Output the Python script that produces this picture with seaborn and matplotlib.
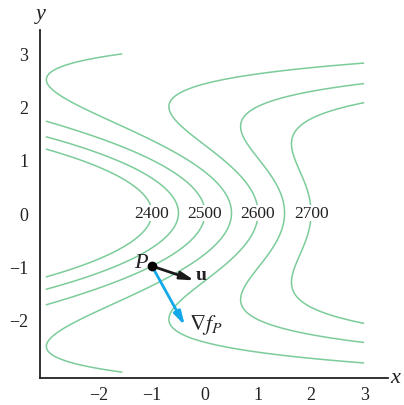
import numpy as np
import matplotlib
matplotlib.use("Agg")
import matplotlib.pyplot as plt
import seaborn as sns

sns.set_style("white")
plt.rcParams['font.family'] = ['Liberation Serif', 'DejaVu Serif']
plt.rcParams['mathtext.fontset'] = 'stix'

# surface: f(x, y) = base + scale*(x + y^2)*exp(-decay*y^2)
base = 2500
scale = 100
decay = 0.3
x_range = [-3, 3]
y_range = [-3, 3]

labeled_levels = [2400, 2500, 2600, 2700]
plain_levels = [2450, 2550, 2650]
label_pos = [(-1, 0), (0, 0), (1, 0), (2, 0)]

ticks = [-2, -1, 0, 1, 2, 3]

P = (-1.0, -1.0)
u_tip = (-0.2, -1.27)
grad_tip = (-0.38, -2.12)

green = '#7ccc9a'
blue = '#12a8ea'

xs = np.linspace(x_range[0], x_range[1], 400)
ys = np.linspace(y_range[0], y_range[1], 400)
X, Y = np.meshgrid(xs, ys)
Z = base + scale * (X + Y**2) * np.exp(-decay * Y**2)

fig = plt.figure(figsize=(4.04, 4.06), dpi=100)
ax = fig.add_axes([40 / 404, 27 / 406, 348 / 404, 348 / 406])

ax.contour(X, Y, Z, levels=plain_levels, colors=green, linewidths=1.1)
cs = ax.contour(X, Y, Z, levels=labeled_levels, colors=green, linewidths=1.1)
labels = ax.clabel(cs, manual=label_pos, fmt='%d', inline=False,
                   fontsize=12.5, colors='#222222')
for t in labels:
    t.set_rotation(0)
    t.set_bbox(dict(facecolor='white', edgecolor='none', pad=0.3))

# vectors at P
ax.annotate('', xy=u_tip, xytext=P,
            arrowprops=dict(arrowstyle='-|>,head_length=0.8,head_width=0.22',
                            color='#1a1a1a', lw=2, shrinkA=0, shrinkB=0))
ax.annotate('', xy=grad_tip, xytext=P,
            arrowprops=dict(arrowstyle='-|>,head_length=0.8,head_width=0.22',
                            color=blue, lw=2, shrinkA=0, shrinkB=0))
ax.plot([P[0]], [P[1]], 'o', color='black', ms=6, zorder=5)
ax.text(P[0] - 0.07, P[1] - 0.02, 'P', style='italic', fontsize=16,
        ha='right', va='baseline', color='#222222')
ax.text(-0.07, -1.16, 'u', fontweight='bold', fontsize=14,
        ha='center', va='center', color='#222222')
ax.text(-0.31, -2.1, r'$\nabla f_P$', fontsize=16,
        ha='left', va='center', color='#222222')

ax.set_xlim(-3.11, 3.45)
ax.set_ylim(-3.11, 3.45)
ax.set_xticks(ticks)
ax.set_yticks(ticks)
ax.set_xticklabels(['\u2212%d' % -t if t < 0 else str(t) for t in ticks])
ax.set_yticklabels(['\u2212%d' % -t if t < 0 else str(t) for t in ticks])
ax.tick_params(direction='inout', length=9, width=1, colors='#222222',
               labelsize=13, pad=4)
ax.tick_params(axis='x', pad=1.5)
for s in ['top', 'right']:
    ax.spines[s].set_visible(False)
for s in ['left', 'bottom']:
    ax.spines[s].set_color('#222222')
    ax.spines[s].set_linewidth(1.3)

fig.text(395 / 404, 1 - 379 / 406, 'x', style='italic', fontsize=16,
         ha='center', va='center', color='#222222')
fig.text(41 / 404, 1 - 15 / 406, 'y', style='italic', fontsize=16,
         ha='center', va='center', color='#222222')

fig.savefig('out.png', dpi=100)
